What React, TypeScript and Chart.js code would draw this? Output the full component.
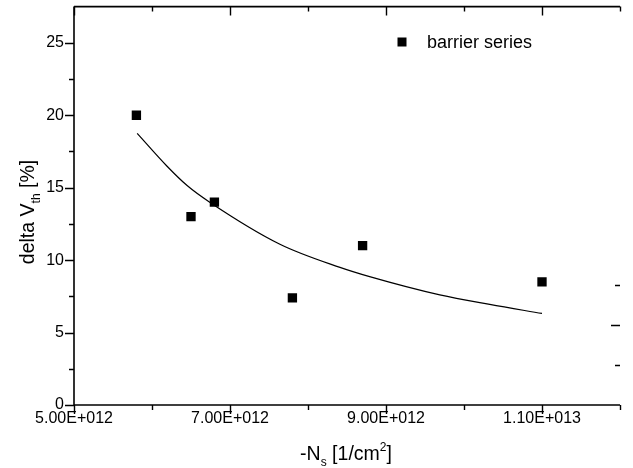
import React, { useEffect, useRef } from "react";
import { Chart, registerables } from "chart.js";

Chart.register(...registerables);

const FONT = "'Liberation Sans', Arial, sans-serif";

// Measured data (barrier series)
const nsValues = [5.8e12, 6.5e12, 6.8e12, 7.8e12, 8.7e12, 1.1e13];
const deltaVth = [20, 13, 14, 7.4, 11, 8.5];

// Fit curve
const fitX = [5.81e12, 6.19e12, 6.45e12, 6.74e12, 7.64e12, 8.41e12, 8.79e12, 9.69e12, 10.33e12, 11.0e12];
const fitY = [18.75, 16.5, 15.15, 14.0, 11.1, 9.5, 8.86, 7.6, 6.94, 6.32];

// Axis ranges / ticks
const xMin = 5e12;
const xMax = 1.2e13;
const xStep = 1e12;
const xMajorLabels = [5e12, 7e12, 9e12, 1.1e13];
const yMin = 0;
const yMax = 27.5;
const yMinorStep = 2.5;
const yMajorStep = 5;
const rightDashValues = [2.75, 5.5, 8.25];
const rightDashMajor = [false, true, false];

const legendLabel = "barrier series";

function sciFormat(v: number): string {
  const exp = Math.floor(Math.log10(v) + 1e-9);
  const mant = v / Math.pow(10, exp);
  return mant.toFixed(2) + "E+" + String(exp).padStart(3, "0");
}

const decorPlugin = {
  id: "decor",
  afterDraw(chart: any) {
    const ctx = chart.ctx as CanvasRenderingContext2D;
    const { left, right, top, bottom } = chart.chartArea;
    const xs = chart.scales.x;
    const ys = chart.scales.y;
    ctx.save();
    ctx.strokeStyle = "#000";
    ctx.fillStyle = "#000";
    ctx.lineWidth = 1.6;
    ctx.beginPath();
    ctx.moveTo(left, top);
    ctx.lineTo(left, bottom);
    ctx.moveTo(left, bottom);
    ctx.lineTo(right, bottom);
    ctx.moveTo(left, top);
    ctx.lineTo(right, top);
    ctx.stroke();

    ctx.lineWidth = 1.4;
    ctx.beginPath();
    for (let v = yMin; v < yMax - 1e-9; v += yMinorStep) {
      const y = Math.round(ys.getPixelForValue(v)) + 0.5;
      const major = Math.abs(v / yMajorStep - Math.round(v / yMajorStep)) < 1e-6;
      const len = major ? 9 : 5;
      ctx.moveTo(left - len, y);
      ctx.lineTo(left, y);
    }
    for (let v = xMin; v <= xMax + 1; v += xStep) {
      const x = Math.round(xs.getPixelForValue(v)) + 0.5;
      const major = xMajorLabels.some((m) => Math.abs(m - v) < 1e6);
      const len = major ? 9 : 5;
      ctx.moveTo(x, bottom);
      ctx.lineTo(x, bottom + len);
      ctx.moveTo(x, top);
      ctx.lineTo(x, top + len);
    }
    rightDashValues.forEach((v, i) => {
      const y = Math.round(ys.getPixelForValue(v)) + 0.5;
      const len = rightDashMajor[i] ? 9 : 5;
      ctx.moveTo(right - len, y);
      ctx.lineTo(right, y);
    });
    ctx.stroke();

    // legend
    const lx = 402;
    const ly = 42;
    ctx.fillRect(lx - 4.5, ly - 4.5, 9, 9);
    ctx.font = `18px ${FONT}`;
    ctx.textBaseline = "alphabetic";
    ctx.textAlign = "left";
    ctx.fillText(legendLabel, 427, 48);

    const big = `19.5px ${FONT}`;
    const small = `12px ${FONT}`;
    const xParts: [string, string, number][] = [
      ["-N", big, 0],
      ["s", small, 6],
      [" [1/cm", big, 0],
      ["2", small, -9],
      ["]", big, 0],
    ];
    let total = 0;
    xParts.forEach(([t, f]) => {
      ctx.font = f;
      total += ctx.measureText(t).width;
    });
    let cx = 346 - total / 2;
    const baseX = 460;
    xParts.forEach(([t, f, dy]) => {
      ctx.font = f;
      ctx.fillText(t, cx, baseX + dy);
      cx += ctx.measureText(t).width;
    });

    const yParts: [string, string, number][] = [
      ["delta V", big, 0],
      ["th", small, 6],
      [" [%]", big, 0],
    ];
    total = 0;
    yParts.forEach(([t, f]) => {
      ctx.font = f;
      total += ctx.measureText(t).width;
    });
    ctx.translate(34, 212);
    ctx.rotate(-Math.PI / 2);
    let px = -total / 2;
    yParts.forEach(([t, f, dy]) => {
      ctx.font = f;
      ctx.fillText(t, px, dy);
      px += ctx.measureText(t).width;
    });
    ctx.restore();
  },
};

export default function App() {
  const ref = useRef<HTMLCanvasElement | null>(null);
  useEffect(() => {
    if (!ref.current) return;
    Chart.defaults.font.family = FONT;
    const chart = new Chart(ref.current, {
      type: "scatter",
      data: {
        datasets: [
          {
            type: "scatter",
            label: legendLabel,
            data: nsValues.map((x, i) => ({ x, y: deltaVth[i] })),
            pointStyle: "rect",
            pointRadius: 6.6,
            pointHoverRadius: 6.6,
            backgroundColor: "#000",
            borderColor: "#000",
            borderWidth: 0,
            order: 1,
          },
          {
            type: "line",
            label: "fit",
            data: fitX.map((x, i) => ({ x, y: fitY[i] })),
            borderColor: "#000",
            borderWidth: 1.2,
            pointRadius: 0,
            fill: false,
            cubicInterpolationMode: "monotone",
            order: 2,
          } as any,
        ],
      },
      options: {
        animation: false,
        responsive: false,
        devicePixelRatio: 1,
        layout: { padding: { top: 5, right: 13, left: 0, bottom: 0 } },
        plugins: {
          legend: { display: false },
          tooltip: { enabled: false },
        },
        scales: {
          x: {
            type: "linear",
            min: xMin,
            max: xMax,
            grid: { display: false, drawTicks: false },
            border: { display: false },
            ticks: {
              stepSize: xStep,
              autoSkip: false,
              maxRotation: 0,
              padding: 4,
              color: "#000",
              font: { size: 16, family: FONT },
              callback: (v: any) =>
                xMajorLabels.some((m) => Math.abs(m - Number(v)) < 1e6) ? sciFormat(Number(v)) : "",
            },
            afterFit: (s: any) => {
              s.height = 63;
              s.paddingLeft = 0;
              s.paddingRight = 0;
            },
          },
          y: {
            type: "linear",
            min: yMin,
            max: yMax,
            grid: { display: false, drawTicks: false },
            border: { display: false },
            ticks: {
              stepSize: yMajorStep,
              autoSkip: false,
              padding: 10,
              color: "#000",
              font: { size: 16, family: FONT },
              callback: (v: any) => (Number(v) % yMajorStep === 0 ? String(v) : ""),
            },
            afterFit: (s: any) => {
              s.width = 74;
              s.paddingTop = 0;
              s.paddingBottom = 0;
            },
          },
        },
      },
      plugins: [decorPlugin],
    });
    return () => chart.destroy();
  }, []);
  return (
    <div style={{ position: "fixed", left: 0, top: 0, width: 633, height: 468, background: "#fff" }}>
      <canvas ref={ref} width={633} height={468} />
    </div>
  );
}
